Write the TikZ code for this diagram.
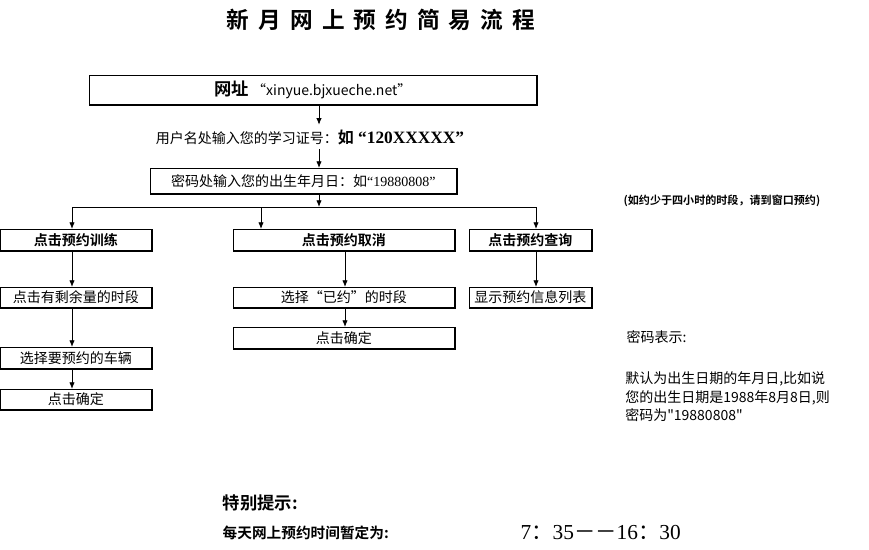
\documentclass[tikz,border=0pt]{standalone}
\usepackage{fontspec}
\setmainfont{Liberation Serif}
\newfontfamily\cjk{Noto Sans CJK SC}
\newfontfamily\cjkb{Noto Sans CJK SC Bold}
\usetikzlibrary{arrows.meta}
\tikzset{
  bx/.style={draw,line width=0.6pt,inner sep=0pt,anchor=north west,font=\cjk\fontsize{10.5}{12}\selectfont},
  ar/.style={-{Latex[length=5pt,width=4pt]},line width=0.6pt},
  ln/.style={line width=0.6pt}
}
\newcommand\boxat[6]{\node[bx,minimum width=#4*0.75pt,minimum height=#5*0.75pt] (#1) at (#2,#3) {#6};
  \draw[line width=1.4pt] (#1.north east)--(#1.south east)--(#1.south west);}
\begin{document}
\begin{tikzpicture}[x=0.75pt,y=-0.75pt]
\useasboundingbox (0,0) rectangle (869,550);
\node (title) at (381,20) {\cjkb\fontsize{17}{20}\selectfont 新\hspace{0.4em}月\hspace{0.4em}网\hspace{0.4em}上\hspace{0.4em}预\hspace{0.4em}约\hspace{0.4em}简\hspace{0.4em}易\hspace{0.4em}流\hspace{0.4em}程};
\boxat{url}{89}{75}{447}{29}{{\cjkb\fontsize{13}{15}\selectfont 网址} {\fontsize{10.5}{12}\selectfont “xinyue.bjxueche.net”}}
\node (user) at (310,137) {{\cjk\fontsize{10.5}{12}\selectfont 用户名处输入您的学习证号：}{\cjkb\fontsize{12}{14}\selectfont 如}{\fontsize{13}{15}\selectfont\bfseries\ “120XXXXX”}};
\boxat{pwd}{150}{168}{306}{25}{密码处输入您的出生年月日：如{\rmfamily “19880808”}}
\boxat{a1}{0}{229}{151}{21}{\cjkb 点击预约训练}
\boxat{b1}{233}{229}{221}{21}{\cjkb 点击预约取消}
\boxat{c1}{469}{229}{122}{21}{\cjkb 点击预约查询}
\boxat{a2}{0}{287}{151}{20}{点击有剩余量的时段}
\boxat{b2}{233}{287}{221}{20}{选择“已约”的时段}
\boxat{c2}{469}{287}{122}{20}{显示预约信息列表}
\boxat{a3}{0}{347}{151}{21}{选择要预约的车辆}
\boxat{b3}{233}{327}{221}{21}{点击确定}
\boxat{a4}{0}{389}{151}{20}{点击确定}
\coordinate (j) at (319,207);
\coordinate (jl) at (72,207);
\coordinate (jr) at (536,207);
\coordinate (jm) at (261,207);
\draw[ar] (url.south -| j) -- (user.north -| j);
\draw[ar] (user.south -| j) -- (pwd.north -| j);
\draw[ar] (pwd.south -| j) -- (j);
\draw[ln] (jl) -- (jr);
\draw[ar] (jl) -- (a1.north -| jl);
\draw[ar] (jm) -- (b1.north -| jm);
\draw[ar] (jr) -- (c1.north -| jr);
\draw[ar] (a1.south -| jl) -- (a2.north -| jl);
\draw[ar] (a2.south -| jl) -- (a3.north -| jl);
\draw[ar] (a3.south -| jl) -- (a4.north -| jl);
\coordinate (xm) at (345,0);
\draw[ar] (b1.south -| xm) -- (b2.north -| xm);
\draw[ar] (b2.south -| xm) -- (b3.north -| xm);
\draw[ar] (c1.south -| jr) -- (c2.north -| jr);
\node[anchor=west,font=\cjkb\fontsize{8.3}{9}\selectfont] (note) at (619,201) {(如约少于四小时的时段，请到窗口预约)};
\node[anchor=west,font=\cjk\fontsize{10.5}{12}\selectfont] (pt) at (622,337) {密码表示:};
\node[anchor=north west,align=left,font=\cjk\fontsize{10.5}{14.2}\selectfont,inner sep=0pt] (pp) at (625,371) {默认为出生日期的年月日,比如说\\您的出生日期是1988年8月8日,则\\密码为"19880808\textquotedbl};
\node[anchor=west,font=\cjkb\fontsize{13}{15}\selectfont] (tb) at (218,503) {特别提示:};
\node[anchor=west,font=\cjkb\fontsize{11}{13}\selectfont] (tt) at (218,533) {每天网上预约时间暂定为:};
\node[anchor=west,font=\fontsize{16}{18}\selectfont] (tm) at (516,533) {7{\cjk ：}35{\cjk －－}16{\cjk ：}30};
\end{tikzpicture}
\end{document}
